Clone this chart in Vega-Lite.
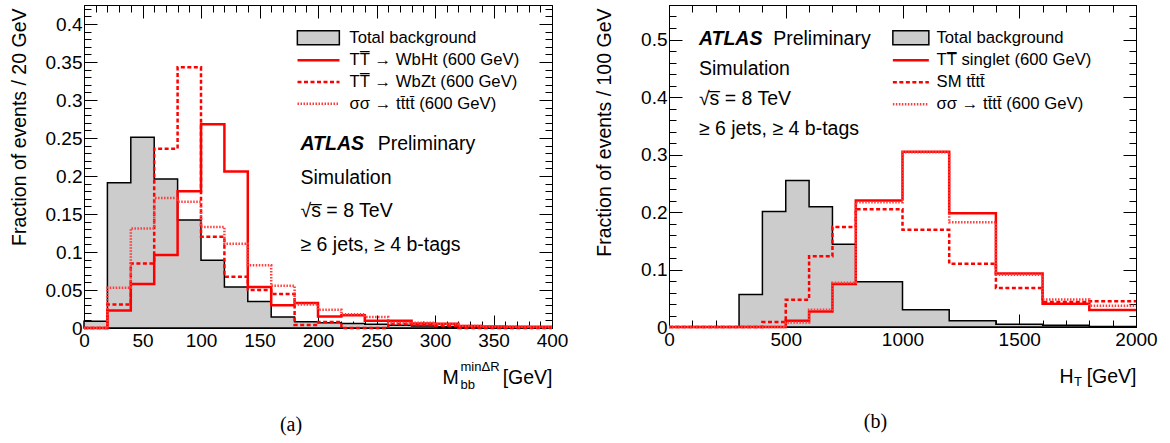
{
  "$schema": "https://vega.github.io/schema/vega-lite/v6.json",
  "padding": {"left": 8, "top": 4, "right": 5, "bottom": 2},
  "background": "white",
  "bounds": "flush",
  "spacing": 117,
  "config": {
    "font": "Liberation Sans",
    "view": {"stroke": "black", "strokeWidth": 1},
    "axis": {"grid": false, "domain": false, "zindex": 1, "labelFont": "Liberation Sans", "labelFontSize": 19, "labelColor": "black", "titleFont": "Liberation Sans", "titleFontSize": 19.5, "titleColor": "black", "titleFontWeight": "normal", "tickColor": "black", "tickWidth": 1, "labelFlush": false, "labelOverlap": false},
    "legend": {"labelFont": "Liberation Sans", "labelFontSize": 16.7, "labelColor": "black", "labelLimit": 0, "padding": 0, "title": null},
    "title": {"font": "Liberation Serif", "fontSize": 20, "fontWeight": "normal", "color": "black"}
  },
  "resolve": {"scale": {"x": "independent", "y": "independent", "color": "independent", "fill": "independent", "strokeDash": "independent"}, "legend": {"color": "independent", "fill": "independent", "strokeDash": "independent"}},
  "hconcat": [
    {
      "width": 468,
      "height": 323,
      "title": {"text": "(a)", "orient": "bottom", "anchor": "middle", "dx": -27, "offset": 24},
      "data": {"values": [
        {"s": "Total background", "x": 0, "y": 0.009}, {"s": "Total background", "x": 20, "y": 0.191}, {"s": "Total background", "x": 40, "y": 0.251}, {"s": "Total background", "x": 60, "y": 0.196}, {"s": "Total background", "x": 80, "y": 0.142}, {"s": "Total background", "x": 100, "y": 0.089}, {"s": "Total background", "x": 120, "y": 0.054}, {"s": "Total background", "x": 140, "y": 0.035}, {"s": "Total background", "x": 160, "y": 0.0145}, {"s": "Total background", "x": 180, "y": 0.0083}, {"s": "Total background", "x": 200, "y": 0.007}, {"s": "Total background", "x": 220, "y": 0.006}, {"s": "Total background", "x": 240, "y": 0.0048}, {"s": "Total background", "x": 260, "y": 0.0035}, {"s": "Total background", "x": 280, "y": 0.0026}, {"s": "Total background", "x": 300, "y": 0.0018}, {"s": "Total background", "x": 320, "y": 0.0012}, {"s": "Total background", "x": 340, "y": 0.0009}, {"s": "Total background", "x": 360, "y": 0.0006}, {"s": "Total background", "x": 380, "y": 0.0004}, {"s": "Total background", "x": 400, "y": 0.0004},
        {"s": "TT\u0305 \u2192 WbHt (600 GeV)", "x": 0, "y": 0}, {"s": "TT\u0305 \u2192 WbHt (600 GeV)", "x": 20, "y": 0.023}, {"s": "TT\u0305 \u2192 WbHt (600 GeV)", "x": 40, "y": 0.058}, {"s": "TT\u0305 \u2192 WbHt (600 GeV)", "x": 60, "y": 0.096}, {"s": "TT\u0305 \u2192 WbHt (600 GeV)", "x": 80, "y": 0.18}, {"s": "TT\u0305 \u2192 WbHt (600 GeV)", "x": 100, "y": 0.268}, {"s": "TT\u0305 \u2192 WbHt (600 GeV)", "x": 120, "y": 0.206}, {"s": "TT\u0305 \u2192 WbHt (600 GeV)", "x": 140, "y": 0.054}, {"s": "TT\u0305 \u2192 WbHt (600 GeV)", "x": 160, "y": 0.03}, {"s": "TT\u0305 \u2192 WbHt (600 GeV)", "x": 180, "y": 0.033}, {"s": "TT\u0305 \u2192 WbHt (600 GeV)", "x": 200, "y": 0.015}, {"s": "TT\u0305 \u2192 WbHt (600 GeV)", "x": 220, "y": 0.0167}, {"s": "TT\u0305 \u2192 WbHt (600 GeV)", "x": 240, "y": 0.0096}, {"s": "TT\u0305 \u2192 WbHt (600 GeV)", "x": 260, "y": 0.0096}, {"s": "TT\u0305 \u2192 WbHt (600 GeV)", "x": 280, "y": 0.006}, {"s": "TT\u0305 \u2192 WbHt (600 GeV)", "x": 300, "y": 0.0057}, {"s": "TT\u0305 \u2192 WbHt (600 GeV)", "x": 320, "y": 0.0026}, {"s": "TT\u0305 \u2192 WbHt (600 GeV)", "x": 340, "y": 0.002}, {"s": "TT\u0305 \u2192 WbHt (600 GeV)", "x": 360, "y": 0.0018}, {"s": "TT\u0305 \u2192 WbHt (600 GeV)", "x": 380, "y": 0.0015}, {"s": "TT\u0305 \u2192 WbHt (600 GeV)", "x": 400, "y": 0.0015},
        {"s": "TT\u0305 \u2192 WbZt (600 GeV)", "x": 0, "y": 0}, {"s": "TT\u0305 \u2192 WbZt (600 GeV)", "x": 20, "y": 0.031}, {"s": "TT\u0305 \u2192 WbZt (600 GeV)", "x": 40, "y": 0.085}, {"s": "TT\u0305 \u2192 WbZt (600 GeV)", "x": 60, "y": 0.236}, {"s": "TT\u0305 \u2192 WbZt (600 GeV)", "x": 80, "y": 0.343}, {"s": "TT\u0305 \u2192 WbZt (600 GeV)", "x": 100, "y": 0.12}, {"s": "TT\u0305 \u2192 WbZt (600 GeV)", "x": 120, "y": 0.0675}, {"s": "TT\u0305 \u2192 WbZt (600 GeV)", "x": 140, "y": 0.05}, {"s": "TT\u0305 \u2192 WbZt (600 GeV)", "x": 160, "y": 0.0447}, {"s": "TT\u0305 \u2192 WbZt (600 GeV)", "x": 180, "y": 0.004}, {"s": "TT\u0305 \u2192 WbZt (600 GeV)", "x": 200, "y": 0.008}, {"s": "TT\u0305 \u2192 WbZt (600 GeV)", "x": 220, "y": 0}, {"s": "TT\u0305 \u2192 WbZt (600 GeV)", "x": 240, "y": 0}, {"s": "TT\u0305 \u2192 WbZt (600 GeV)", "x": 260, "y": 0.0057}, {"s": "TT\u0305 \u2192 WbZt (600 GeV)", "x": 280, "y": 0.004}, {"s": "TT\u0305 \u2192 WbZt (600 GeV)", "x": 300, "y": 0.003}, {"s": "TT\u0305 \u2192 WbZt (600 GeV)", "x": 320, "y": 0}, {"s": "TT\u0305 \u2192 WbZt (600 GeV)", "x": 340, "y": 0}, {"s": "TT\u0305 \u2192 WbZt (600 GeV)", "x": 360, "y": 0}, {"s": "TT\u0305 \u2192 WbZt (600 GeV)", "x": 380, "y": 0}, {"s": "TT\u0305 \u2192 WbZt (600 GeV)", "x": 400, "y": 0},
        {"s": "\u03c3\u03c3 \u2192 tt\u0304tt\u0304 (600 GeV)", "x": 0, "y": 0}, {"s": "\u03c3\u03c3 \u2192 tt\u0304tt\u0304 (600 GeV)", "x": 20, "y": 0.053}, {"s": "\u03c3\u03c3 \u2192 tt\u0304tt\u0304 (600 GeV)", "x": 40, "y": 0.131}, {"s": "\u03c3\u03c3 \u2192 tt\u0304tt\u0304 (600 GeV)", "x": 60, "y": 0.171}, {"s": "\u03c3\u03c3 \u2192 tt\u0304tt\u0304 (600 GeV)", "x": 80, "y": 0.166}, {"s": "\u03c3\u03c3 \u2192 tt\u0304tt\u0304 (600 GeV)", "x": 100, "y": 0.133}, {"s": "\u03c3\u03c3 \u2192 tt\u0304tt\u0304 (600 GeV)", "x": 120, "y": 0.111}, {"s": "\u03c3\u03c3 \u2192 tt\u0304tt\u0304 (600 GeV)", "x": 140, "y": 0.0825}, {"s": "\u03c3\u03c3 \u2192 tt\u0304tt\u0304 (600 GeV)", "x": 160, "y": 0.0557}, {"s": "\u03c3\u03c3 \u2192 tt\u0304tt\u0304 (600 GeV)", "x": 180, "y": 0.031}, {"s": "\u03c3\u03c3 \u2192 tt\u0304tt\u0304 (600 GeV)", "x": 200, "y": 0.024}, {"s": "\u03c3\u03c3 \u2192 tt\u0304tt\u0304 (600 GeV)", "x": 220, "y": 0.018}, {"s": "\u03c3\u03c3 \u2192 tt\u0304tt\u0304 (600 GeV)", "x": 240, "y": 0.0145}, {"s": "\u03c3\u03c3 \u2192 tt\u0304tt\u0304 (600 GeV)", "x": 260, "y": 0.007}, {"s": "\u03c3\u03c3 \u2192 tt\u0304tt\u0304 (600 GeV)", "x": 280, "y": 0.007}, {"s": "\u03c3\u03c3 \u2192 tt\u0304tt\u0304 (600 GeV)", "x": 300, "y": 0.005}, {"s": "\u03c3\u03c3 \u2192 tt\u0304tt\u0304 (600 GeV)", "x": 320, "y": 0.0025}, {"s": "\u03c3\u03c3 \u2192 tt\u0304tt\u0304 (600 GeV)", "x": 340, "y": 0.002}, {"s": "\u03c3\u03c3 \u2192 tt\u0304tt\u0304 (600 GeV)", "x": 360, "y": 0.0015}, {"s": "\u03c3\u03c3 \u2192 tt\u0304tt\u0304 (600 GeV)", "x": 380, "y": 0.001}, {"s": "\u03c3\u03c3 \u2192 tt\u0304tt\u0304 (600 GeV)", "x": 400, "y": 0.001}
      ]},
      "layer": [
        {
          "transform": [{"filter": "datum.s === 'Total background'"}],
          "mark": {"type": "area", "interpolate": "step-after", "stroke": "black", "strokeWidth": 1.5},
          "encoding": {
            "x": {"field": "x", "type": "quantitative", "scale": {"domain": [0, 400], "nice": false, "zero": false},
              "axis": {"orient": "bottom", "tickCount": 8, "tickSize": -13, "labelPadding": 16, "format": "d", "title": "M", "titleX": 358, "titleY": 55, "titleAlign": "left", "titleBaseline": "alphabetic", "titleAngle": 0}},
            "y": {"field": "y", "type": "quantitative", "scale": {"domain": [0, 0.425], "nice": false},
              "axis": {"orient": "left", "tickCount": 9, "tickSize": -13, "labelPadding": 15, "format": ".2~f", "title": "Fraction of events / 20 GeV", "titleX": -65, "titleY": 3, "titleAngle": -90, "titleAlign": "right", "titleBaseline": "middle"}},
            "fill": {"field": "s", "type": "nominal", "scale": {"range": ["#cccccc"]},
              "legend": {"orient": "none", "legendX": 226, "legendY": 24.3, "symbolType": "M-3,-1H3V1H-3Z", "symbolSize": 196, "symbolStrokeColor": "black", "symbolStrokeWidth": 1.5, "labelOffset": 22.6}}
          }
        },
        {
          "transform": [{"filter": "datum.s !== 'Total background'"}],
          "mark": {"type": "line", "interpolate": "step-after", "strokeWidth": 2.5},
          "encoding": {
            "x": {"field": "x", "type": "quantitative",
              "axis": {"orient": "bottom", "tickCount": 40, "tickSize": -7, "labels": false, "title": "bb", "titleFontSize": 13, "titleX": 376, "titleY": 60, "titleAlign": "left", "titleBaseline": "alphabetic", "titleAngle": 0}},
            "y": {"field": "y", "type": "quantitative",
              "axis": {"orient": "left", "tickCount": 42, "tickSize": -7, "labels": false, "title": null}},
            "color": {"field": "s", "type": "nominal",
              "scale": {"domain": ["TT\u0305 \u2192 WbHt (600 GeV)", "TT\u0305 \u2192 WbZt (600 GeV)", "\u03c3\u03c3 \u2192 tt\u0304tt\u0304 (600 GeV)"], "range": ["#ff0000", "#ff0000", "#ff3c3c"]},
              "legend": {"orient": "none", "legendX": 226, "legendY": 46.8, "symbolType": "M-3,0H3", "symbolSize": 196, "symbolStrokeWidth": 2.5, "labelOffset": 22.5, "rowPadding": 3.7}},
            "strokeDash": {"field": "s", "type": "nominal",
              "scale": {"domain": ["TT\u0305 \u2192 WbHt (600 GeV)", "TT\u0305 \u2192 WbZt (600 GeV)", "\u03c3\u03c3 \u2192 tt\u0304tt\u0304 (600 GeV)"], "range": [[1, 0], [4, 2.5], [1.5, 1.5]]},
              "legend": {"orient": "none", "legendX": 226, "legendY": 46.8, "symbolType": "M-3,0H3", "symbolSize": 196, "symbolStrokeWidth": 2.5, "labelOffset": 22.5, "rowPadding": 3.7}}
          }
        },
        {
          "data": {"values": [{}]},
          "mark": {"type": "text", "align": "left", "baseline": "middle", "fontSize": 19.5, "fontWeight": "bold", "fontStyle": "italic", "color": "black"},
          "encoding": {
            "x": {"datum": 185, "type": "quantitative", "axis": {"orient": "top", "tickCount": 8, "tickSize": -13, "labels": false, "title": "min\u0394R", "titleFontSize": 13, "titleX": 376, "titleY": 365, "titleAlign": "left", "titleBaseline": "alphabetic", "titleAngle": 0}},
            "y": {"datum": 0.242, "type": "quantitative", "axis": {"orient": "right", "tickCount": 9, "tickSize": -13, "labels": false, "title": null}},
            "text": {"value": "ATLAS"}
          }
        },
        {
          "data": {"values": [{}]},
          "mark": {"type": "text", "align": "left", "baseline": "middle", "fontSize": 19.5, "color": "black"},
          "encoding": {
            "x": {"datum": 251, "type": "quantitative", "axis": {"orient": "top", "tickCount": 40, "tickSize": -7, "labels": false, "title": "[GeV]", "titleX": 468, "titleY": 378, "titleAlign": "right", "titleBaseline": "alphabetic", "titleAngle": 0}},
            "y": {"datum": 0.242, "type": "quantitative", "axis": {"orient": "right", "tickCount": 42, "tickSize": -7, "labels": false, "title": null}},
            "text": {"value": "Preliminary"}
          }
        },
        {
          "data": {"values": [{}]},
          "mark": {"type": "text", "align": "left", "baseline": "middle", "fontSize": 19.5, "color": "black"},
          "encoding": {
            "x": {"datum": 185, "type": "quantitative", "axis": null},
            "y": {"datum": 0.198, "type": "quantitative", "axis": null},
            "text": {"value": "Simulation"}
          }
        },
        {
          "data": {"values": [{}]},
          "mark": {"type": "text", "align": "left", "baseline": "middle", "fontSize": 19.5, "color": "black"},
          "encoding": {
            "x": {"datum": 185, "type": "quantitative", "axis": null},
            "y": {"datum": 0.1536, "type": "quantitative", "axis": null},
            "text": {"value": "\u221as\u0305 = 8 TeV"}
          }
        },
        {
          "data": {"values": [{}]},
          "mark": {"type": "text", "align": "left", "baseline": "middle", "fontSize": 19.5, "color": "black"},
          "encoding": {
            "x": {"datum": 185, "type": "quantitative", "axis": null},
            "y": {"datum": 0.1088, "type": "quantitative", "axis": null},
            "text": {"value": "\u2265 6 jets, \u2265 4 b-tags"}
          }
        }
      ],
      "resolve": {"axis": {"x": "independent", "y": "independent"}}
    },
    {
      "width": 467,
      "height": 322,
      "title": {"text": "(b)", "orient": "bottom", "anchor": "middle", "dx": -27, "offset": 24},
      "data": {"values": [
        {"s": "Total background", "x": 0, "y": 0}, {"s": "Total background", "x": 100, "y": 0}, {"s": "Total background", "x": 200, "y": 0}, {"s": "Total background", "x": 300, "y": 0.0564}, {"s": "Total background", "x": 400, "y": 0.201}, {"s": "Total background", "x": 500, "y": 0.255}, {"s": "Total background", "x": 600, "y": 0.209}, {"s": "Total background", "x": 700, "y": 0.144}, {"s": "Total background", "x": 800, "y": 0.0785}, {"s": "Total background", "x": 1000, "y": 0.03}, {"s": "Total background", "x": 1200, "y": 0.011}, {"s": "Total background", "x": 1400, "y": 0.005}, {"s": "Total background", "x": 1600, "y": 0.003}, {"s": "Total background", "x": 1800, "y": 0.001}, {"s": "Total background", "x": 2000, "y": 0.001},
        {"s": "TT\u0305 singlet (600 GeV)", "x": 0, "y": 0}, {"s": "TT\u0305 singlet (600 GeV)", "x": 100, "y": 0}, {"s": "TT\u0305 singlet (600 GeV)", "x": 200, "y": 0}, {"s": "TT\u0305 singlet (600 GeV)", "x": 300, "y": 0}, {"s": "TT\u0305 singlet (600 GeV)", "x": 400, "y": 0}, {"s": "TT\u0305 singlet (600 GeV)", "x": 500, "y": 0.011}, {"s": "TT\u0305 singlet (600 GeV)", "x": 600, "y": 0.027}, {"s": "TT\u0305 singlet (600 GeV)", "x": 700, "y": 0.075}, {"s": "TT\u0305 singlet (600 GeV)", "x": 800, "y": 0.22}, {"s": "TT\u0305 singlet (600 GeV)", "x": 1000, "y": 0.305}, {"s": "TT\u0305 singlet (600 GeV)", "x": 1200, "y": 0.198}, {"s": "TT\u0305 singlet (600 GeV)", "x": 1400, "y": 0.093}, {"s": "TT\u0305 singlet (600 GeV)", "x": 1600, "y": 0.0405}, {"s": "TT\u0305 singlet (600 GeV)", "x": 1800, "y": 0.0296}, {"s": "TT\u0305 singlet (600 GeV)", "x": 2000, "y": 0.0296},
        {"s": "SM tt\u0304tt\u0304", "x": 0, "y": 0}, {"s": "SM tt\u0304tt\u0304", "x": 100, "y": 0}, {"s": "SM tt\u0304tt\u0304", "x": 200, "y": 0}, {"s": "SM tt\u0304tt\u0304", "x": 300, "y": 0}, {"s": "SM tt\u0304tt\u0304", "x": 400, "y": 0.0087}, {"s": "SM tt\u0304tt\u0304", "x": 500, "y": 0.0476}, {"s": "SM tt\u0304tt\u0304", "x": 600, "y": 0.123}, {"s": "SM tt\u0304tt\u0304", "x": 700, "y": 0.174}, {"s": "SM tt\u0304tt\u0304", "x": 800, "y": 0.205}, {"s": "SM tt\u0304tt\u0304", "x": 1000, "y": 0.169}, {"s": "SM tt\u0304tt\u0304", "x": 1200, "y": 0.11}, {"s": "SM tt\u0304tt\u0304", "x": 1400, "y": 0.068}, {"s": "SM tt\u0304tt\u0304", "x": 1600, "y": 0.0436}, {"s": "SM tt\u0304tt\u0304", "x": 1800, "y": 0.0447}, {"s": "SM tt\u0304tt\u0304", "x": 2000, "y": 0.0447},
        {"s": "\u03c3\u03c3 \u2192 tt\u0304tt\u0304 (600 GeV)", "x": 0, "y": 0}, {"s": "\u03c3\u03c3 \u2192 tt\u0304tt\u0304 (600 GeV)", "x": 100, "y": 0}, {"s": "\u03c3\u03c3 \u2192 tt\u0304tt\u0304 (600 GeV)", "x": 200, "y": 0}, {"s": "\u03c3\u03c3 \u2192 tt\u0304tt\u0304 (600 GeV)", "x": 300, "y": 0}, {"s": "\u03c3\u03c3 \u2192 tt\u0304tt\u0304 (600 GeV)", "x": 400, "y": 0}, {"s": "\u03c3\u03c3 \u2192 tt\u0304tt\u0304 (600 GeV)", "x": 500, "y": 0.008}, {"s": "\u03c3\u03c3 \u2192 tt\u0304tt\u0304 (600 GeV)", "x": 600, "y": 0.03}, {"s": "\u03c3\u03c3 \u2192 tt\u0304tt\u0304 (600 GeV)", "x": 700, "y": 0.077}, {"s": "\u03c3\u03c3 \u2192 tt\u0304tt\u0304 (600 GeV)", "x": 800, "y": 0.217}, {"s": "\u03c3\u03c3 \u2192 tt\u0304tt\u0304 (600 GeV)", "x": 1000, "y": 0.304}, {"s": "\u03c3\u03c3 \u2192 tt\u0304tt\u0304 (600 GeV)", "x": 1200, "y": 0.182}, {"s": "\u03c3\u03c3 \u2192 tt\u0304tt\u0304 (600 GeV)", "x": 1400, "y": 0.091}, {"s": "\u03c3\u03c3 \u2192 tt\u0304tt\u0304 (600 GeV)", "x": 1600, "y": 0.048}, {"s": "\u03c3\u03c3 \u2192 tt\u0304tt\u0304 (600 GeV)", "x": 1800, "y": 0.037}, {"s": "\u03c3\u03c3 \u2192 tt\u0304tt\u0304 (600 GeV)", "x": 2000, "y": 0.037}
      ]},
      "layer": [
        {
          "transform": [{"filter": "datum.s === 'Total background'"}],
          "mark": {"type": "area", "interpolate": "step-after", "stroke": "black", "strokeWidth": 1.5},
          "encoding": {
            "x": {"field": "x", "type": "quantitative", "scale": {"domain": [0, 2000], "nice": false, "zero": false},
              "axis": {"orient": "bottom", "tickCount": 4, "tickSize": -13, "labelPadding": 16, "format": "d", "title": "H", "titleX": 390, "titleY": 55, "titleAlign": "left", "titleBaseline": "alphabetic", "titleAngle": 0}},
            "y": {"field": "y", "type": "quantitative", "scale": {"domain": [0, 0.56], "nice": false},
              "axis": {"orient": "left", "tickCount": 6, "tickSize": -13, "labelPadding": 15, "format": ".1~f", "title": "Fraction of events / 100 GeV", "titleX": -65, "titleY": 3, "titleAngle": -90, "titleAlign": "right", "titleBaseline": "middle"}},
            "fill": {"field": "s", "type": "nominal", "scale": {"range": ["#cccccc"]},
              "legend": {"orient": "none", "legendX": 233.5, "legendY": 24.4, "symbolType": "M-3,-1.17H3V1.17H-3Z", "symbolSize": 144, "symbolStrokeColor": "black", "symbolStrokeWidth": 1.5, "labelOffset": 17.3}}
          }
        },
        {
          "transform": [{"filter": "datum.s !== 'Total background'"}],
          "mark": {"type": "line", "interpolate": "step-after", "strokeWidth": 2.5},
          "encoding": {
            "x": {"field": "x", "type": "quantitative",
              "axis": {"orient": "bottom", "tickCount": 20, "tickSize": -7, "labels": false, "title": "T", "titleFontSize": 13, "titleX": 404.5, "titleY": 58, "titleAlign": "left", "titleBaseline": "alphabetic", "titleAngle": 0}},
            "y": {"field": "y", "type": "quantitative",
              "axis": {"orient": "left", "tickCount": 28, "tickSize": -7, "labels": false, "title": null}},
            "color": {"field": "s", "type": "nominal",
              "scale": {"domain": ["TT\u0305 singlet (600 GeV)", "SM tt\u0304tt\u0304", "\u03c3\u03c3 \u2192 tt\u0304tt\u0304 (600 GeV)"], "range": ["#ff0000", "#ff0000", "#ff3c3c"]},
              "legend": {"orient": "none", "legendX": 233.5, "legendY": 47, "symbolType": "M-3,0H3", "symbolSize": 144, "symbolStrokeWidth": 2.5, "labelOffset": 17.3, "rowPadding": 4}},
            "strokeDash": {"field": "s", "type": "nominal",
              "scale": {"domain": ["TT\u0305 singlet (600 GeV)", "SM tt\u0304tt\u0304", "\u03c3\u03c3 \u2192 tt\u0304tt\u0304 (600 GeV)"], "range": [[1, 0], [4, 2.5], [1.5, 1.5]]},
              "legend": {"orient": "none", "legendX": 233.5, "legendY": 47, "symbolType": "M-3,0H3", "symbolSize": 144, "symbolStrokeWidth": 2.5, "labelOffset": 17.3, "rowPadding": 4}}
          }
        },
        {
          "data": {"values": [{}]},
          "mark": {"type": "text", "align": "left", "baseline": "middle", "fontSize": 19.5, "fontWeight": "bold", "fontStyle": "italic", "color": "black"},
          "encoding": {
            "x": {"datum": 128, "type": "quantitative", "axis": {"orient": "top", "tickCount": 4, "tickSize": -13, "labels": false, "title": "[GeV]", "titleX": 467, "titleY": 377, "titleAlign": "right", "titleBaseline": "alphabetic", "titleAngle": 0}},
            "y": {"datum": 0.501, "type": "quantitative", "axis": {"orient": "right", "tickCount": 6, "tickSize": -13, "labels": false, "title": null}},
            "text": {"value": "ATLAS"}
          }
        },
        {
          "data": {"values": [{}]},
          "mark": {"type": "text", "align": "left", "baseline": "middle", "fontSize": 19.5, "color": "black"},
          "encoding": {
            "x": {"datum": 446, "type": "quantitative", "axis": {"orient": "top", "tickCount": 20, "tickSize": -7, "labels": false, "title": null}},
            "y": {"datum": 0.501, "type": "quantitative", "axis": {"orient": "right", "tickCount": 28, "tickSize": -7, "labels": false, "title": null}},
            "text": {"value": "Preliminary"}
          }
        },
        {
          "data": {"values": [{}]},
          "mark": {"type": "text", "align": "left", "baseline": "middle", "fontSize": 19.5, "color": "black"},
          "encoding": {
            "x": {"datum": 128, "type": "quantitative", "axis": null},
            "y": {"datum": 0.449, "type": "quantitative", "axis": null},
            "text": {"value": "Simulation"}
          }
        },
        {
          "data": {"values": [{}]},
          "mark": {"type": "text", "align": "left", "baseline": "middle", "fontSize": 19.5, "color": "black"},
          "encoding": {
            "x": {"datum": 128, "type": "quantitative", "axis": null},
            "y": {"datum": 0.397, "type": "quantitative", "axis": null},
            "text": {"value": "\u221as\u0305 = 8 TeV"}
          }
        },
        {
          "data": {"values": [{}]},
          "mark": {"type": "text", "align": "left", "baseline": "middle", "fontSize": 19.5, "color": "black"},
          "encoding": {
            "x": {"datum": 128, "type": "quantitative", "axis": null},
            "y": {"datum": 0.345, "type": "quantitative", "axis": null},
            "text": {"value": "\u2265 6 jets, \u2265 4 b-tags"}
          }
        }
      ],
      "resolve": {"axis": {"x": "independent", "y": "independent"}}
    }
  ]
}
